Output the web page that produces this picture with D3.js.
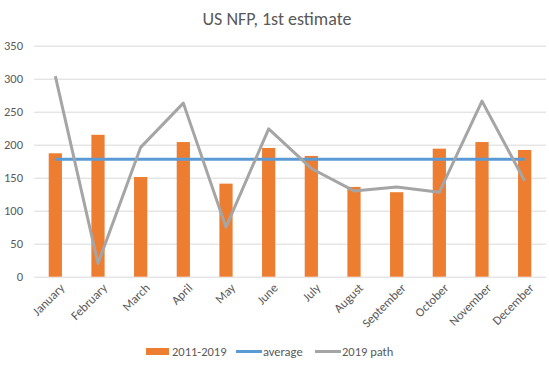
<!DOCTYPE html>
<html><head><meta charset="utf-8">
<script src="https://cdn.jsdelivr.net/npm/d3@7"></script>
<style>body{margin:0;background:#fff;} text{font-family:Calibri,Carlito,Lato,"Open Sans",sans-serif;}</style>
</head><body><svg id="c" width="549" height="367"></svg>
<script>
const months = ["January","February","March","April","May","June","July","August","September","October","November","December"];
const bars2011_2019 = [187,215,151,204,141,195,183,136,128,194,204,192];
const averageVals = [178,178,178,178,178,178,178,178,178,178,178,178];
const path2019 = [304,20,196,263,75,224,164,130,136,128,266,145];
const yTicks = [0,50,100,150,200,250,300,350];

const svg = d3.select("#c");
const W = 549, H = 367;
const m = {left:34, right:3, top:45.7, bottom:90.3};
const x = d3.scaleBand().domain(months).range([m.left, W - m.right]).paddingInner(0.69).paddingOuter(0.345);
const xc = d => x(d) + x.bandwidth()/2;
const y = d3.scaleLinear().domain([0,350]).range([H - m.bottom, m.top]);

svg.append("rect").attr("width",W).attr("height",H).attr("fill","#fff");

// title
svg.append("text").attr("x", 277).attr("y", 25).attr("text-anchor","middle")
  .attr("font-size", 18).attr("fill","#595959").text("US NFP, 1st estimate");

// grid
const yAxis = d3.axisLeft(y).tickValues(yTicks).tickSize(-(W - m.left - m.right)).tickPadding(11);
const gy = svg.append("g").attr("transform",`translate(${m.left},0)`).call(yAxis);
gy.select(".domain").remove();
gy.selectAll(".tick line").attr("stroke","#d9d9d9").attr("stroke-width",1);
gy.selectAll(".tick text").attr("fill","#595959").attr("font-size",12.5);

// x axis labels
const xAxis = d3.axisBottom(x).tickSize(0).tickPadding(0);
const gx = svg.append("g").attr("transform",`translate(0,${y(0)})`).call(xAxis);
gx.select(".domain").remove();
gx.selectAll(".tick text").attr("fill","#595959").attr("font-size",12.5)
  .attr("text-anchor","end").attr("dy",0).attr("y",0)
  .attr("transform","translate(10,12) rotate(-45)");

// bars
svg.append("g").selectAll("rect").data(months).join("rect")
  .attr("x", d => x(d)).attr("width", x.bandwidth())
  .attr("y", (d,i) => y(bars2011_2019[i])).attr("height", (d,i) => y(0) - y(bars2011_2019[i]))
  .attr("fill","#ED7D31");

const line = d3.line().x((d,i) => xc(months[i])).y(d => y(d));
svg.append("path").datum(averageVals).attr("d", line).attr("fill","none")
  .attr("stroke","#5B9BD5").attr("stroke-width",3);
svg.append("path").datum(path2019).attr("d", line).attr("fill","none")
  .attr("stroke","#A5A5A5").attr("stroke-width",3).attr("stroke-linejoin","round");

// legend
const lg = svg.append("g").attr("font-size",12.5).attr("fill","#595959");
lg.append("rect").attr("x",146).attr("y",348).attr("width",23).attr("height",7).attr("fill","#ED7D31");
lg.append("text").attr("x",172).attr("y",356).attr("fill","#595959").text("2011-2019");
lg.append("line").attr("x1",236).attr("x2",262).attr("y1",351.5).attr("y2",351.5).attr("stroke","#5B9BD5").attr("stroke-width",3);
lg.append("text").attr("x",263).attr("y",356).attr("fill","#595959").text("average");
lg.append("line").attr("x1",315).attr("x2",341).attr("y1",351.5).attr("y2",351.5).attr("stroke","#A5A5A5").attr("stroke-width",3);
lg.append("text").attr("x",342).attr("y",356).attr("fill","#595959").text("2019 path");
</script></body></html>
